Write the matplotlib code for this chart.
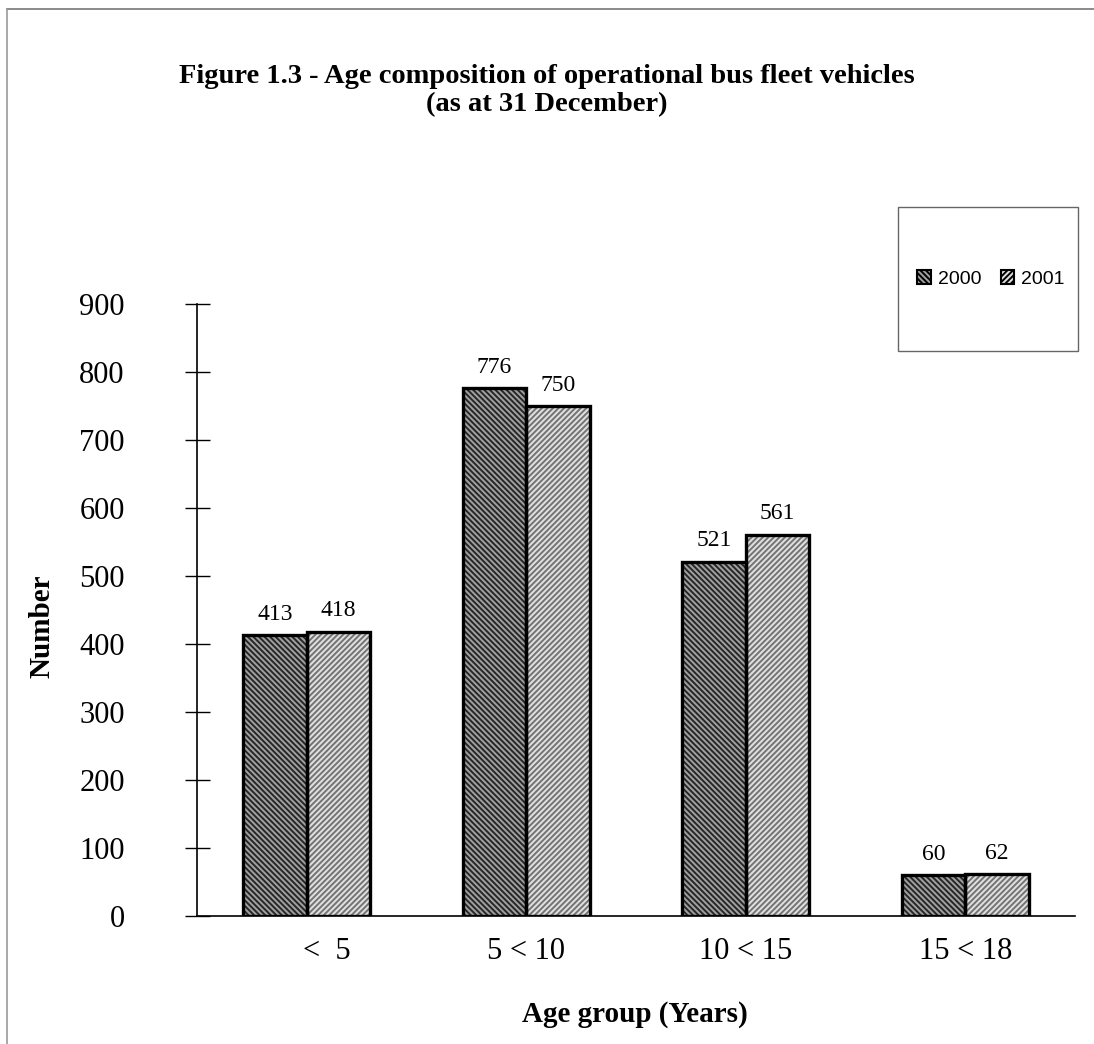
import matplotlib
matplotlib.use("Agg")
import matplotlib.pyplot as plt
import matplotlib.transforms as mtransforms
from matplotlib.patches import Rectangle, Patch
from matplotlib.lines import Line2D
import numpy as np

# data
categories = ["<  5", "5 < 10", "10 < 15", "15 < 18"]
years = ["2000", "2001"]
vals_2000 = [413, 776, 521, 60]
vals_2001 = [418, 750, 561, 62]

plt.rcParams['font.family'] = ['Liberation Serif', 'DejaVu Serif']
plt.rcParams['hatch.linewidth'] = 1.4

W, H = 1094, 1044
fig = plt.figure(figsize=(W / 100, H / 100), dpi=100)
ax = fig.add_axes([197 / W, 1 - 916 / H, (1075 - 197) / W, (916 - 304) / H])

x = np.arange(len(categories))
bw = 0.29

styles = {
    "2000": dict(face='#a0a0a0', hatch_col='#262626', hatch='\\\\\\\\\\\\'),
    "2001": dict(face='#e0e0e0', hatch_col='#737373', hatch='//////'),
}

for k, (yr, vals) in enumerate(zip(years, [vals_2000, vals_2001])):
    st = styles[yr]
    pos = x + (k - 0.5) * bw
    ax.bar(pos, vals, bw, color=st['face'], edgecolor=st['hatch_col'],
           hatch=st['hatch'], linewidth=0, zorder=2)
    ax.bar(pos, vals, bw, fill=False, edgecolor='black', linewidth=2.4, zorder=3)
    for p, v in zip(pos, vals):
        ax.annotate(str(v), (p, v), xytext=(0, 11), textcoords='offset points',
                    ha='center', va='baseline', fontsize=17)

ax.set_xlim(-0.5, 3.5)
ax.set_ylim(0, 900)
ax.set_yticks(range(0, 901, 100))
ax.set_xticks(x)
ax.set_xticklabels(categories)
ax.tick_params(axis='y', direction='inout', length=18, width=1, labelsize=22, pad=43)
ax.tick_params(axis='x', length=0, labelsize=22, pad=15)
for s in ['top', 'right']:
    ax.spines[s].set_visible(False)
for s in ['left', 'bottom']:
    ax.spines[s].set_linewidth(1.2)

# first category label sits a bit to the right in the original
lbl0 = ax.get_xticklabels()[0]
lbl0.set_transform(lbl0.get_transform() + mtransforms.ScaledTranslation(0.2, 0, fig.dpi_scale_trans))

# titles
fig.text(547 / W, 1 - 83 / H, "Figure 1.3 - Age composition of operational bus fleet vehicles",
         ha='center', va='baseline', fontsize=20.5, fontweight='bold')
fig.text(547 / W, 1 - 111 / H, "(as at 31 December)",
         ha='center', va='baseline', fontsize=20.5, fontweight='bold')
fig.text(42 / W, 1 - 626 / H, "Number", rotation=90, ha='center', va='center',
         fontsize=21, fontweight='bold')
fig.text(635 / W, 1 - 1022 / H, "Age group (Years)", ha='center', va='baseline',
         fontsize=21, fontweight='bold')

# legend box
fig.patches.append(Rectangle((898 / W, 1 - 351 / H), (1078 - 898) / W, (351 - 207) / H,
                             transform=fig.transFigure, fill=False, edgecolor='#666666', linewidth=1))
handles = [Patch(facecolor=styles[y]['face'], edgecolor='black',
                 hatch=styles[y]['hatch'], linewidth=1.5) for y in years]
fig.legend(handles, years, loc='center', bbox_to_anchor=(991 / W, 1 - 279 / H), ncol=2,
           frameon=False, prop={'family': 'Liberation Sans', 'size': 14},
           handlelength=0.7, handleheight=0.7, handletextpad=0.36, columnspacing=1.0)

# outer border (top and left)
fig.add_artist(Line2D([7 / W, 1], [1 - 9 / H, 1 - 9 / H], transform=fig.transFigure, color='#777777', lw=1.2))
fig.add_artist(Line2D([7 / W, 7 / W], [0, 1 - 9 / H], transform=fig.transFigure, color='#999999', lw=1.2))

fig.savefig('out.png', dpi=100)
